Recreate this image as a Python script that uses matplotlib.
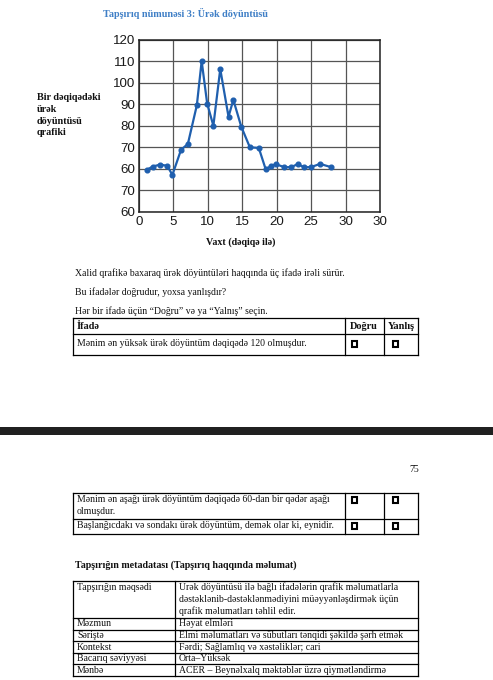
import matplotlib
matplotlib.use("Agg")
import matplotlib.pyplot as plt
from matplotlib.patches import Rectangle
from matplotlib.lines import Line2D

# ---------------- data ----------------
minutes = [1.1, 2.0, 3.1, 4.1, 4.85, 6.1, 7.1, 8.4, 9.1, 9.9, 10.8, 11.8, 13.0, 13.7,
           14.85, 16.1, 17.4, 18.4, 19.1, 19.85, 21.1, 22.1, 23.1, 23.9, 24.95, 26.3, 27.9]
bpm = [59.5, 61.1, 62.0, 61.4, 57.2, 68.8, 71.6, 89.5, 110.0, 90.3, 80.0, 106.3, 84.2, 92.0,
       79.6, 70.0, 69.7, 59.8, 61.2, 62.2, 60.8, 60.8, 62.3, 60.8, 60.8, 62.3, 60.8]
y_ticks = [40, 50, 60, 70, 80, 90, 100, 110, 120]
y_tick_labels = ["60", "70", "60", "70", "80", "90", "100", "110", "120"]
x_ticks = [0, 5, 10, 15, 20, 25, 30, 35]
x_tick_labels = ["0", "5", "10", "15", "20", "25", "30", "30"]

title = "Tapşırıq nümunəsi 3: Ürək döyüntüsü"
y_label_lines = ["Bir dəqiqədəki", "ürək", "döyüntüsü", "qrafiki"]
x_label = "Vaxt (dəqiqə ilə)"
intro_lines = [
    "Xalid qrafikə baxaraq ürək döyüntüləri haqqında üç ifadə irəli sürür.",
    "Bu ifadələr doğrudur, yoxsa yanlışdır?",
    "Hər bir ifadə üçün “Doğru” və ya “Yalnış” seçin.",
]
table_header = ["İfadə", "Doğru", "Yanlış"]
statement_1 = ["Mənim ən yüksək ürək döyüntüm dəqiqədə 120 olmuşdur."]
statement_2 = ["Mənim ən aşağı ürək döyüntüm dəqiqədə 60-dan bir qədər aşağı", "olmuşdur."]
statement_3 = ["Başlanğıcdakı və sondakı ürək döyüntüm, demək olar ki, eynidir."]
page_number = "75"
meta_title = "Tapşırığın metadatası (Tapşırıq haqqında məlumat)"
meta_keys = ["Tapşırığın məqsədi", "Məzmun", "Səriştə", "Kontekst", "Bacarıq səviyyəsi", "Mənbə"]
meta_values = [
    ["Ürək döyüntüsü ilə bağlı ifadələrin qrafik məlumatlarla",
     "dəstəklənib-dəstəklənmədiyini müəyyənləşdirmək üçün",
     "qrafik məlumatları təhlil edir."],
    ["Həyat elmləri"],
    ["Elmi məlumatları və sübutları tənqidi şəkildə şərh etmək"],
    ["Fərdi; Sağlamlıq və xəstəliklər; cari"],
    ["Orta–Yüksək"],
    ["ACER – Beynəlxalq məktəblər üzrə qiymətləndirmə"],
]

# ---------------- figure ----------------
W, H = 493, 680
fig = plt.figure(figsize=(W / 100, H / 100), dpi=100)
fig.patch.set_facecolor("white")

def fx(x):
    return x / W

def fy(y):
    return 1 - y / H

SERIF = ["Liberation Serif", "DejaVu Serif"]
FS = 7.0

def ptext(x, y, s, **kw):
    kw.setdefault("family", SERIF)
    kw.setdefault("fontsize", FS)
    kw.setdefault("va", "center")
    kw.setdefault("ha", "left")
    kw.setdefault("color", "#111111")
    fig.text(fx(x), fy(y), s, **kw)

def hline(x0, x1, y, lw=0.9, color="black"):
    fig.add_artist(Line2D([fx(x0), fx(x1)], [fy(y), fy(y)], lw=lw, color=color,
                          transform=fig.transFigure))

def vline(x, y0, y1, lw=0.9, color="black"):
    fig.add_artist(Line2D([fx(x), fx(x)], [fy(y0), fy(y1)], lw=lw, color=color,
                          transform=fig.transFigure))

def checkbox(x, y, s=5.5):
    fig.add_artist(Rectangle((fx(x - s / 2), fy(y + s / 2)), s / W, s / H, fill=False,
                             lw=1.5, edgecolor="black", transform=fig.transFigure))

# ---------------- chart ----------------
ptext(103, 13, title, fontsize=7.3, weight="bold", color="#3f7fc6")

ax = fig.add_axes([fx(139), fy(212), (380 - 139) / W, (212 - 39.5) / H])
ax.plot(minutes, bpm, color="#1f5fae", lw=1.6, marker="o", ms=3.4,
        solid_joinstyle="round", zorder=3)
ax.set_xlim(0, 35)
ax.set_ylim(40, 120)
ax.set_xticks(x_ticks)
ax.set_xticklabels(x_tick_labels)
ax.set_yticks(y_ticks)
ax.set_yticklabels(y_tick_labels)
ax.grid(True, color="#555555", lw=0.9)
ax.set_axisbelow(True)
ax.tick_params(length=0, labelsize=9.6, colors="#1a1a1a", pad=3)
for lab in ax.get_xticklabels() + ax.get_yticklabels():
    lab.set_family(["Liberation Sans", "DejaVu Sans"])
for sp in ax.spines.values():
    sp.set_linewidth(1.1)
    sp.set_color("#222222")

for i, line in enumerate(y_label_lines):
    ptext(37, 98 + i * 11.6, line, fontsize=7.25, weight="bold")
ptext(241, 242, x_label, fontsize=7.2, weight="bold", ha="center")

# ---------------- intro text ----------------
for i, line in enumerate(intro_lines):
    ptext(75, 273 + i * 19, line)

# ---------------- table 1 ----------------
L, C1, C2, R = 73, 345, 384, 418
t1 = [318, 334, 355]
for y in t1:
    hline(L, R, y)
for x in (L, C1, C2, R):
    vline(x, t1[0], t1[-1])
ptext(77, 326, table_header[0], weight="bold", fontsize=7.4)
ptext(350, 326, table_header[1], weight="bold", fontsize=7.4)
ptext(388, 326, table_header[2], weight="bold", fontsize=7.4)
ptext(77, 344, statement_1[0])
checkbox(354.5, 344)
checkbox(395.5, 344)

# ---------------- page break band ----------------
fig.add_artist(Rectangle((0, fy(435)), 1, 8 / H, color="#202020", lw=0,
                         transform=fig.transFigure))

ptext(419, 469, page_number, ha="right")

# ---------------- table 2 ----------------
t2 = [493, 519, 534]
for y in t2:
    hline(L, R, y)
for x in (L, C1, C2, R):
    vline(x, t2[0], t2[-1])
for i, line in enumerate(statement_2):
    ptext(77, 500 + i * 12, line)
ptext(77, 526, statement_3[0])
checkbox(354.5, 500)
checkbox(395.5, 500)
checkbox(354.5, 526)
checkbox(395.5, 526)

# ---------------- metadata ----------------
ptext(75, 565, meta_title, fontsize=7.2, weight="bold")
MC = 175
rows_y = [581, 618, 629.6, 641.2, 652.8, 664.4, 676]
for y in rows_y:
    hline(L, R, y)
for x in (L, MC, R):
    vline(x, rows_y[0], rows_y[-1])
for i, key in enumerate(meta_keys):
    top = rows_y[i]
    ptext(77, top + 6, key)
    for j, line in enumerate(meta_values[i]):
        ptext(179, top + 6 + j * 12.2, line)

fig.savefig("out.png", dpi=100, facecolor="white")
